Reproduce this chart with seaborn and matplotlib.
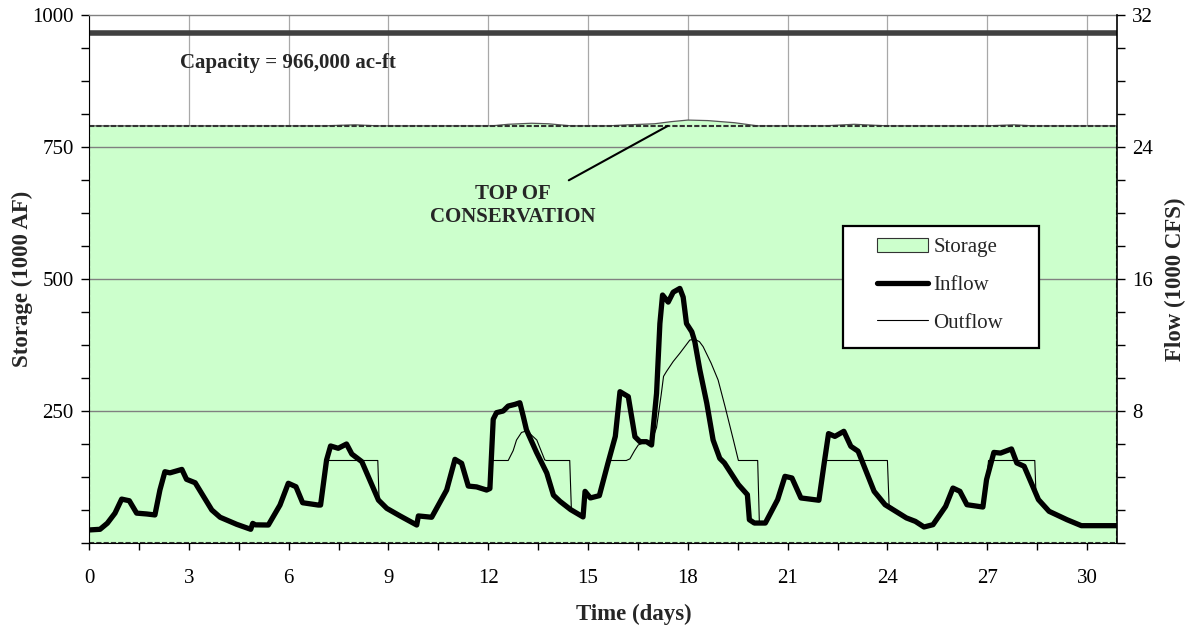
import numpy as np
import pandas as pd
import matplotlib
matplotlib.use("Agg")
import matplotlib.pyplot as plt
import seaborn as sns
from matplotlib.ticker import MultipleLocator, FixedLocator, FuncFormatter
from matplotlib.patches import Patch, Rectangle
from matplotlib.lines import Line2D

# ---------------- data ----------------
inflow_day = [0.0, 0.33, 0.55, 0.78, 0.98, 1.21, 1.43, 1.73, 1.98, 2.13, 2.28, 2.43, 2.79, 2.93,
              3.19, 3.69, 3.94, 4.44, 4.86, 4.92, 5.0, 5.39, 5.74, 5.99, 6.22, 6.42, 6.89, 6.96,
              7.14, 7.26, 7.49, 7.74, 7.9, 8.2, 8.7, 8.95, 9.35, 9.85, 9.9, 10.3, 10.75, 11.0,
              11.2, 11.4, 11.65, 11.95, 12.05, 12.15, 12.25, 12.45, 12.6, 12.8, 12.95, 13.05,
              13.15, 13.45, 13.76, 13.96, 14.16, 14.48, 14.85, 14.91, 15.07, 15.34, 15.6, 15.82,
              15.96, 16.21, 16.41, 16.56, 16.76, 16.91, 17.06, 17.16, 17.24, 17.41, 17.56, 17.76,
              17.86, 17.96, 18.12, 18.21, 18.36, 18.57, 18.76, 18.96, 19.1, 19.52, 19.79, 19.85,
              20.0, 20.33, 20.7, 20.92, 21.13, 21.4, 21.94, 22.1, 22.23, 22.42, 22.69, 22.9,
              23.12, 23.6, 23.93, 24.57, 24.84, 25.1, 25.37, 25.75, 25.97, 26.18, 26.39, 26.87,
              26.98, 27.2, 27.4, 27.73, 27.89, 28.11, 28.54, 28.86, 29.4, 29.83, 30.9]
inflow_kcfs = [0.79, 0.83, 1.2, 1.81, 2.66, 2.56, 1.81, 1.76, 1.70, 3.21, 4.32, 4.25, 4.46, 3.86,
               3.65, 2.0, 1.56, 1.13, 0.83, 1.19, 1.1, 1.09, 2.3, 3.62, 3.41, 2.44, 2.3, 2.3,
               5.03, 5.88, 5.74, 6.0, 5.39, 4.93, 2.6, 2.1, 1.64, 1.09, 1.64, 1.56, 3.21, 5.07,
               4.83, 3.45, 3.4, 3.21, 3.3, 7.5, 7.9, 8.0, 8.3, 8.4, 8.5, 7.7,
               6.85, 5.5, 4.24, 2.9, 2.52, 2.02, 1.58, 3.13, 2.73, 2.87, 4.85, 6.46,
               9.17, 8.87, 6.44, 6.14, 6.14, 5.94, 9.07, 13.3, 15.03, 14.6, 15.2, 15.43,
               14.9, 13.3, 12.8, 12.2, 10.5, 8.47, 6.24, 5.13, 4.85, 3.54, 2.93, 1.41,
               1.21, 1.21, 2.63, 4.04, 3.94, 2.73, 2.59, 4.85, 6.63, 6.46, 6.77, 5.86,
               5.56, 3.13, 2.32, 1.52, 1.31, 0.97, 1.11, 2.22, 3.33, 3.13, 2.32, 2.18,
               3.84, 5.49, 5.45, 5.7, 4.85, 4.65, 2.63, 1.92, 1.41, 1.05, 1.05]

outflow_day = [0.0, 0.33, 0.55, 0.78, 0.98, 1.21, 1.43, 1.73, 1.98, 2.13, 2.28, 2.43, 2.79, 2.93,
               3.19, 3.69, 3.94, 4.44, 4.86, 4.92, 5.0, 5.39, 5.74, 5.99, 6.22, 6.42, 6.89, 6.96,
               7.13, 8.68, 8.72, 8.95, 9.35, 9.85, 9.9, 10.3, 10.75, 11.0, 11.2, 11.4, 11.65,
               11.95, 12.05, 12.1, 12.6, 12.75, 12.85, 13.0, 13.16, 13.46, 13.7, 13.75, 14.45,
               14.5, 14.85, 14.91, 15.07, 15.34, 15.58, 15.6, 16.15, 16.26, 16.4, 16.51, 16.7,
               16.91, 17.06, 17.2, 17.27, 17.36, 17.56, 17.76, 18.06, 18.21, 18.35, 18.46, 18.7,
               18.91, 19.12, 19.37, 19.52, 20.1, 20.15, 20.33, 20.7, 20.92, 21.13, 21.4, 21.94,
               22.1, 22.15, 24.0, 24.05, 24.57, 24.84, 25.1, 25.37, 25.75, 25.97, 26.18, 26.39,
               26.87, 26.98, 27.04, 28.43, 28.47, 28.54, 28.86, 29.4, 29.83, 30.9]
outflow_kcfs = [0.79, 0.83, 1.2, 1.81, 2.66, 2.56, 1.81, 1.76, 1.70, 3.21, 4.32, 4.25, 4.46, 3.86,
                3.65, 2.0, 1.56, 1.13, 0.83, 1.19, 1.1, 1.09, 2.3, 3.62, 3.41, 2.44, 2.3, 2.3,
                5.0, 5.0, 2.55, 2.1, 1.64, 1.09, 1.64, 1.56, 3.21, 5.0, 4.83, 3.45, 3.4,
                3.21, 3.3, 5.0, 5.0, 5.6, 6.24, 6.7, 6.8, 6.24, 5.03, 5.0, 5.0,
                2.0, 1.58, 3.13, 2.73, 2.87, 4.8, 5.0, 5.0, 5.1, 5.6, 5.94, 6.1,
                6.14, 7.0, 9.0, 10.1, 10.4, 11.0, 11.5, 12.3, 12.35, 12.2, 11.9, 10.9,
                9.88, 8.26, 6.24, 5.0, 5.0, 1.25, 1.21, 2.63, 4.04, 3.94, 2.73, 2.59,
                4.85, 5.0, 5.0, 2.3, 1.52, 1.31, 0.97, 1.11, 2.22, 3.33, 3.13, 2.32,
                2.18, 3.84, 5.0, 5.0, 2.75, 2.63, 1.92, 1.41, 1.05, 1.05]

storage_day = [0.0, 7.1, 7.5, 8.0, 8.7, 12.1, 12.6, 13.3, 13.8, 14.5, 15.6, 16.2, 17.0, 17.5,
               18.0, 18.6, 19.4, 20.1, 22.1, 23.0, 24.0, 27.0, 27.8, 28.4, 30.9]
storage_kaf = [790, 790, 791, 792, 790, 790, 793, 795, 794, 790, 790, 792, 794, 798,
               801, 800, 796, 790, 790, 793, 790, 790, 792, 790, 790]

CAPACITY = 966
TOP_CONSERVATION = 790
DAY_MAX = 30.9
x_ticks = [0, 3, 6, 9, 12, 15, 18, 21, 24, 27, 30]
storage_ticks = [0, 250, 500, 750, 1000]
flow_ticks = [0, 8, 16, 24, 32]

# ---------------- style ----------------
sns.set_style("ticks")
plt.rcParams['font.family'] = ['Liberation Serif', 'DejaVu Serif']
FS = 15
FS_AX = 16.5
GREEN = '#CCFFCC'

fig = plt.figure(figsize=(11.89, 6.30), dpi=100)
ax = fig.add_axes([0.0749, 0.1381, 0.8645, 0.8381])
ax2 = ax.twinx()

ax.set_xlim(0, DAY_MAX)
ax.set_ylim(storage_ticks[0], storage_ticks[-1])
ax2.set_ylim(flow_ticks[0], flow_ticks[-1])

# vertical grid under the fill
ax.set_axisbelow(True)
ax.xaxis.grid(True, color='#a8a8a8', lw=0.9)
ax.yaxis.grid(False)

# storage area
ax.fill_between(storage_day, 0, storage_kaf, facecolor=GREEN, edgecolor='none', zorder=1)
sns.lineplot(x=storage_day, y=storage_kaf, ax=ax, color='#555555', lw=0.9,
             estimator=None, sort=False, zorder=1.8)
dash = (0, (2.5, 1.0))
ax.axhline(TOP_CONSERVATION, color='#333333', lw=1.5, ls=dash, zorder=1.9)
ax.axhline(0, color='#333333', lw=1.5, ls=dash, zorder=1.9)
ax.axvline(0, ymax=TOP_CONSERVATION / storage_ticks[-1], color='#333333', lw=1.5, ls=dash, zorder=1.9)
ax.axvline(DAY_MAX, ymax=TOP_CONSERVATION / storage_ticks[-1], color='#333333', lw=1.5, ls=dash, zorder=1.9)

# horizontal grid over the fill
for v in storage_ticks[1:-1]:
    ax.axhline(v, color='#808080', lw=1.0, zorder=1.5)

# capacity
ax.axhline(CAPACITY, color='#404040', lw=4, zorder=2)
ax.text(2.74, 910, "Capacity = 966,000 ac-ft", fontsize=FS, fontweight='bold',
        ha='left', va='center', zorder=3)

# top of conservation annotation
ax.annotate("TOP OF\nCONSERVATION", xy=(17.4, TOP_CONSERVATION), xytext=(12.75, 640),
            ha='center', va='center', fontsize=FS, fontweight='bold',
            arrowprops=dict(arrowstyle='-', color='black', lw=1.5, shrinkA=0, shrinkB=0,
                            relpos=(0.8, 1.0)), zorder=3)

# flows
sns.lineplot(x=outflow_day, y=outflow_kcfs, ax=ax2, color='black', lw=0.8,
             estimator=None, sort=False, zorder=2)
sns.lineplot(x=inflow_day, y=inflow_kcfs, ax=ax2, color='black', lw=3.8,
             estimator=None, sort=False, zorder=2.5, solid_joinstyle='round',
             solid_capstyle='round')

# ticks
ax.xaxis.set_major_locator(FixedLocator(x_ticks))
ax.xaxis.set_minor_locator(MultipleLocator(1.5))
ax.yaxis.set_major_locator(FixedLocator(storage_ticks))
ax.yaxis.set_minor_locator(MultipleLocator(62.5))
ax.yaxis.set_major_formatter(FuncFormatter(lambda v, p: "" if v == 0 else f"{v:g}"))
ax2.yaxis.set_major_locator(FixedLocator(flow_ticks))
ax2.yaxis.set_minor_locator(MultipleLocator(2))
ax2.yaxis.set_major_formatter(FuncFormatter(lambda v, p: "" if v == 0 else f"{v:g}"))

ax.tick_params(axis='x', which='both', direction='out', length=5, width=1, pad=14,
               labelsize=FS, colors='black')
ax.tick_params(axis='y', which='both', direction='out', length=6, width=1, pad=5,
               labelsize=FS, colors='black')
ax2.tick_params(axis='y', which='both', direction='out', length=6, width=1, pad=5,
                labelsize=FS, colors='black')

# spines
for s in ['top', 'left', 'bottom']:
    ax2.spines[s].set_visible(False)
ax.spines['right'].set_visible(False)
ax.spines['top'].set_color('#808080')
ax.spines['top'].set_linewidth(1.0)
ax.spines['left'].set_color('black')
ax.spines['bottom'].set_color('black')
ax2.spines['right'].set_color('black')
ax2.spines['right'].set_linewidth(1.2)

# axis labels
ax.set_xlabel("Time (days)", fontsize=FS_AX, fontweight='bold')
ax.xaxis.set_label_coords(0.53, -0.1345)
ax.xaxis.label.set_va('center')
ax.set_ylabel("Storage (1000 AF)", fontsize=FS_AX, fontweight='bold')
ax.yaxis.set_label_coords(-0.065, 0.5)
ax.yaxis.label.set_va('center')
ax2.set_ylabel("Flow (1000 CFS)", fontsize=FS_AX, fontweight='bold', rotation=90)
ax2.yaxis.set_label_coords(1.057, 0.5)
ax2.yaxis.label.set_va('center')

# legend
frame = Rectangle((0.7335, 0.3693), 0.1907, 0.2311, transform=ax2.transAxes,
                  facecolor='white', edgecolor='black', lw=1.6, zorder=4)
ax2.add_patch(frame)
handles = [Patch(facecolor=GREEN, edgecolor='#333333', lw=0.8, label='Storage'),
           Line2D([], [], color='black', lw=3.8, label='Inflow'),
           Line2D([], [], color='black', lw=0.8, label='Outflow')]
leg = ax2.legend(handles=handles, loc='center left', bbox_to_anchor=(0.7665, 0.4886),
                 frameon=False, fontsize=FS, handlelength=2.45, handletextpad=0.25,
                 labelspacing=0.87, borderpad=0, borderaxespad=0)
leg.set_zorder(5)

fig.savefig("out.png", dpi=100)
